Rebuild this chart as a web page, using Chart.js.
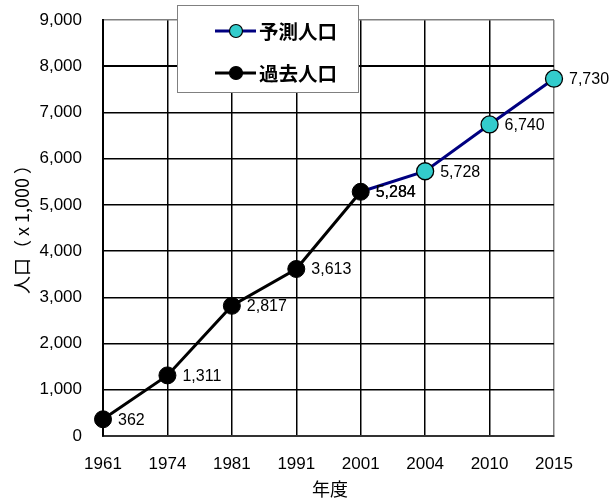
<!DOCTYPE html>
<html>
<head>
<meta charset="utf-8">
<script src="https://cdn.jsdelivr.net/npm/chart.js@4/dist/chart.umd.min.js"></script>
<style>
  html, body { margin: 0; padding: 0; background: #fff; }
  #wrap { width: 611px; height: 501px; position: relative; }
</style>
</head>
<body>
<div id="wrap"><canvas id="c" width="611" height="501"></canvas></div>
<script>
// Census years and population (thousands)
const years = ['1961', '1974', '1981', '1991', '2001', '2004', '2010', '2015'];
const pastPop = [362, 1311, 2817, 3613, 5284, null, null, null];
const forecastPop = [null, null, null, null, 5284, 5728, 6740, 7730];
const yTicks = [0, 1000, 2000, 3000, 4000, 5000, 6000, 7000, 8000, 9000];

const pastName = '過去人口';
const forecastName = '予測人口';
const yTitle = '人口（ x 1,000 ）';
const xTitle = '年度';

const latin = '"Liberation Sans", Arial, sans-serif';
const cjk = '"Noto Sans CJK JP", "Liberation Sans", sans-serif';

const fmt = v => v.toLocaleString('en-US');

// Value labels, axis titles and the boxed legend
const decorations = {
  id: 'decorations',
  afterDatasetsDraw(chart) {
    const ctx = chart.ctx;
    ctx.save();
    ctx.fillStyle = '#000';
    ctx.font = '16px ' + latin;
    ctx.textAlign = 'left';
    ctx.textBaseline = 'middle';
    chart.data.datasets.forEach((ds, di) => {
      const meta = chart.getDatasetMeta(di);
      ds.data.forEach((v, i) => {
        if (v == null) return;
        const p = meta.data[i];
        ctx.fillText(fmt(v), p.x + 15, p.y + 1);
      });
    });

    // Axis titles
    ctx.font = '18px ' + cjk;
    ctx.textAlign = 'center';
    ctx.textBaseline = 'middle';
    ctx.fillText(xTitle, 330, 489);
    ctx.save();
    ctx.translate(22, 225);
    ctx.rotate(-Math.PI / 2);
    ctx.fillText(yTitle, 0, 0);
    ctx.restore();

    // Legend box
    const bx = 177.5, by = 5.5, bw = 181, bh = 87;
    ctx.fillStyle = '#fff';
    ctx.fillRect(bx, by, bw, bh);
    ctx.strokeStyle = '#808080';
    ctx.lineWidth = 1;
    ctx.strokeRect(bx, by, bw, bh);

    const items = [
      { y: 31, line: '#000080', fill: '#33CCCC', text: forecastName },
      { y: 73, line: '#000000', fill: '#000000', text: pastName }
    ];
    items.forEach(it => {
      ctx.strokeStyle = it.line;
      ctx.lineWidth = 3;
      ctx.beginPath();
      ctx.moveTo(215, it.y);
      ctx.lineTo(256, it.y);
      ctx.stroke();
      ctx.beginPath();
      ctx.arc(236, it.y, 6.5, 0, Math.PI * 2);
      ctx.fillStyle = it.fill;
      ctx.fill();
      ctx.lineWidth = 1.2;
      ctx.strokeStyle = '#000';
      ctx.stroke();
      ctx.fillStyle = '#000';
      ctx.font = 'bold 19.5px ' + cjk;
      ctx.textAlign = 'left';
      ctx.textBaseline = 'middle';
      ctx.fillText(it.text, 259, it.y + 1);
    });
    ctx.restore();
  }
};

new Chart(document.getElementById('c'), {
  type: 'line',
  data: {
    labels: years,
    datasets: [
      {
        label: pastName,
        data: pastPop,
        borderColor: '#000000',
        backgroundColor: '#000000',
        borderWidth: 3,
        pointRadius: 8.5,
        pointBorderColor: '#000000',
        pointBackgroundColor: '#000000',
        pointBorderWidth: 1,
        spanGaps: false,
        clip: false,
        order: 1
      },
      {
        label: forecastName,
        data: forecastPop,
        borderColor: '#000080',
        backgroundColor: '#33CCCC',
        borderWidth: 3,
        pointRadius: [0, 0, 0, 0, 0, 8.5, 8.5, 8.5],
        pointBorderColor: '#000000',
        pointBackgroundColor: '#33CCCC',
        pointBorderWidth: 1.3,
        spanGaps: false,
        clip: false,
        order: 2
      }
    ]
  },
  options: {
    responsive: false,
    animation: false,
    devicePixelRatio: 1,
    layout: { padding: { top: 20, right: 57, left: 0, bottom: 0 } },
    plugins: {
      legend: { display: false },
      tooltip: { enabled: false }
    },
    scales: {
      x: {
        type: 'category',
        offset: false,
        afterFit(scale) {
          scale.height = 65;
          scale.paddingLeft = 0;
          scale.paddingRight = 0;
        },
        grid: {
          drawTicks: false,
          color: ctx => ctx.index === years.length - 1 ? '#808080' : '#000000',
          lineWidth: 1.5
        },
        border: { color: '#333333', width: 2 },
        ticks: {
          padding: 18,
          color: '#000',
          font: { family: latin, size: 17 },
          maxRotation: 0,
          autoSkip: false
        }
      },
      y: {
        min: 0,
        max: 9000,
        afterFit(scale) {
          scale.width = 103;
          scale.paddingTop = 0;
          scale.paddingBottom = 0;
        },
        afterBuildTicks(scale) { scale.ticks = yTicks.map(v => ({ value: v })); },
        grid: {
          drawTicks: false,
          color: ctx => ctx.tick && ctx.tick.value === 9000 ? '#808080' : '#000000',
          lineWidth: ctx => ctx.tick && ctx.tick.value === 8000 ? 2 : 1.5
        },
        border: { color: '#000000', width: 2 },
        ticks: {
          padding: 21,
          color: '#000',
          font: { family: latin, size: 17 },
          callback: v => fmt(v)
        }
      }
    }
  },
  plugins: [decorations]
});
</script>
</body>
</html>
